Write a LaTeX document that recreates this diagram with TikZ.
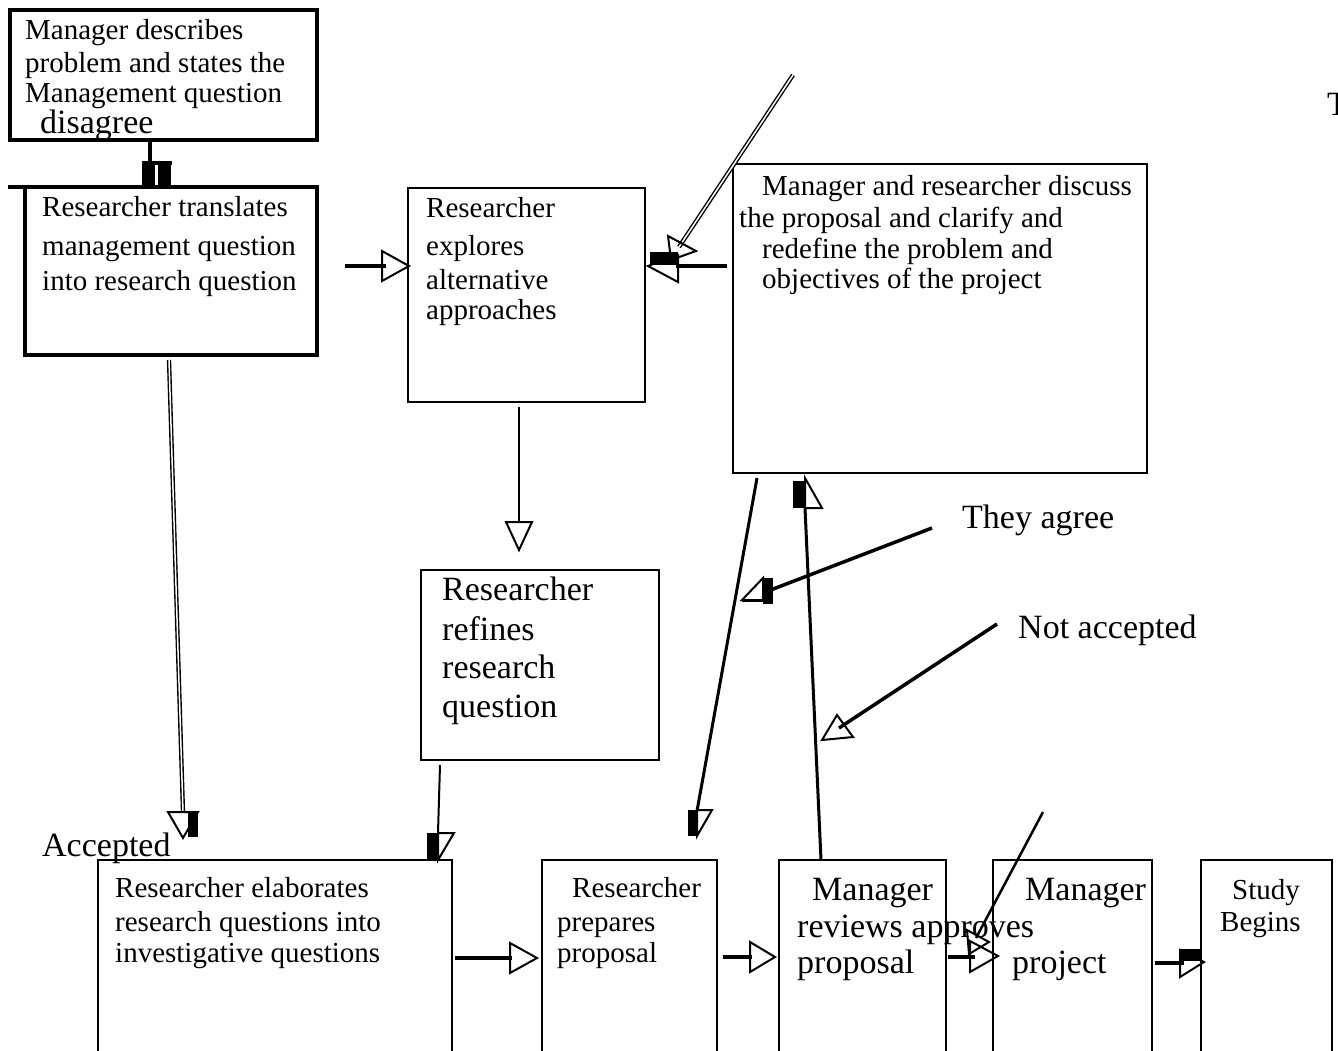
\documentclass[tikz,border=0pt]{standalone}
\usepackage{fontspec}
\setmainfont{Liberation Serif}
\begin{document}
\begin{tikzpicture}[x=1pt,y=-1pt,
  sm/.style={anchor=base west,inner sep=0pt,font=\fontsize{29}{31}\selectfont},
  lg/.style={anchor=base west,inner sep=0pt,font=\fontsize{34}{38}\selectfont},
  box/.style={draw,line width=2.3pt,inner sep=0pt,outer sep=0pt,anchor=north west},
  conn/.style={line width=3.5pt},
  thinc/.style={line width=2pt},
  dbl/.style={double,line width=1.4pt,double distance=1.5pt},
  head/.style={line width=2pt,line join=miter},
]
\useasboundingbox (0,0) rectangle (1338,1050);
\fill[white] (0,0) rectangle (1338,1050);
\clip (0,0) rectangle (1338,1050);

% ---------- boxes ----------
\node[box,line width=3.5pt,minimum width=307pt,minimum height=130pt] (A) at (10,10) {};
\node[box,line width=3.5pt,minimum width=292pt,minimum height=168pt] (B) at (25,187) {};
\node[box,minimum width=237pt,minimum height=214pt] (C) at (408,188) {};
\node[box,line width=2pt,minimum width=414pt,minimum height=309pt] (D) at (733,164) {};
\node[box,minimum width=238pt,minimum height=190pt] (E) at (421,570) {};
\node[box,minimum width=354pt,minimum height=220pt] (F) at (98,860) {};
\node[box,minimum width=175pt,minimum height=220pt] (G) at (542,860) {};
\node[box,minimum width=167pt,minimum height=220pt] (H) at (779,860) {};
\node[box,minimum width=159pt,minimum height=220pt] (I) at (993,860) {};
\node[box,minimum width=131pt,minimum height=220pt] (J) at (1201,860) {};

% ---------- texts ----------
\node[sm] (a1) at (25,39) {Manager describes};
\node[sm] (a2) at (25,72) {problem and states the};
\node[sm] (a3) at (25,102) {Management question};
\node[lg] (a4) at (40,133) {disagree};

\node[sm] (b1) at (42,216) {Researcher translates};
\node[sm] (b2) at (42,255) {management question};
\node[sm] (b3) at (42,290) {into research question};

\node[sm] (c1) at (426,217) {Researcher};
\node[sm] (c2) at (426,255) {explores};
\node[sm] (c3) at (426,289) {alternative};
\node[sm] (c4) at (426,319) {approaches};

\node[sm] (d1) at (762,195) {Manager and researcher discuss};
\node[sm] (d2) at (739,227) {the proposal and clarify and};
\node[sm] (d3) at (762,258) {redefine the problem and};
\node[sm] (d4) at (762,288) {objectives of the project};

\node[lg] (t1) at (1327,115) {T};

\node[lg] (e1) at (442,600) {Researcher};
\node[lg] (e2) at (442,640) {refines};
\node[lg] (e3) at (442,678) {research};
\node[lg] (e4) at (442,717) {question};

\node[lg] (acc) at (42,856) {Accepted};

\node[sm] (f1) at (115,897) {Researcher elaborates};
\node[sm] (f2) at (115,931) {research questions into};
\node[sm] (f3) at (115,962) {investigative questions};

\node[sm] (g1) at (572,897) {Researcher};
\node[sm] (g2) at (557,931) {prepares};
\node[sm] (g3) at (557,962) {proposal};

\node[lg] (h1) at (812,900) {Manager};
\node[lg] (h2) at (797,937) {reviews approves};
\node[lg] (h3) at (797,973) {proposal};

\node[lg] (i1) at (1025,900) {Manager};
\node[lg] (i2) at (1012,973) {project};

\node[sm] (j1) at (1232,899) {Study};
\node[sm] (j2) at (1220,931) {Begins};

\node[lg] (agree) at (962,528) {They agree};
\node[lg] (nacc) at (1018,638) {Not accepted};

% ---------- connector end points ----------
\coordinate (ab0) at (150,140);
\coordinate (ab1) at (150,163);
\coordinate (bs0) at (8,187);
\coordinate (bs1) at (25,187);
\coordinate (bc0) at (345,266);
\coordinate (bc1) at (386,266);
\coordinate (dc0) at (727,266);
\coordinate (dc1) at (676,266);
\coordinate (tl0) at (793,75);
\coordinate (tl1) at (679,247);
\coordinate (ce0) at (519,407);
\coordinate (ce1) at (519,522);
\coordinate (bf0) at (169,360);
\coordinate (bf1) at (183,812);
\coordinate (ef0) at (440,765);
\coordinate (ef1) at (438,833);
\coordinate (fg0) at (455,958);
\coordinate (fg1) at (512,958);
\coordinate (dg0) at (757,478);
\coordinate (dg1) at (697,811);
\coordinate (gh0) at (723,957);
\coordinate (gh1) at (752,957);
\coordinate (hd0) at (821,860);
\coordinate (hd1) at (805,508);
\coordinate (ag0) at (932,528);
\coordinate (ag1) at (768,591);
\coordinate (na0) at (997,624);
\coordinate (na1) at (839,728);
\coordinate (hi0) at (948,957);
\coordinate (hi1) at (975,957);
\coordinate (bd0) at (1043,812);
\coordinate (bd1) at (976,938);
\coordinate (ij0) at (1155,963);
\coordinate (ij1) at (1184,963);

% ---------- connectors ----------
% A -> B
\draw[conn] (ab0) -- (ab1);
\draw[conn] (142,163) -- (172,163);
\fill (142,163) rectangle (155,188);
\fill (158,163) rectangle (171,188);
\draw[conn] (bs0) -- (bs1);

% B -> C
\draw[conn] (bc0) -- (bc1);
\draw[head] (382,251) -- (409,266) -- (382,281) -- cycle;

% D -> C
\draw[conn] (dc0) -- (dc1);
\draw[head] (648,266) -- (678,255) -- (678,282) -- cycle;
\fill (650,252) rectangle (678,265);

% top diagonal double line
\draw[dbl] (tl0) -- (tl1);
\draw[head] (668,236) -- (696,251) -- (671,260) -- cycle;

% C -> E
\draw[thinc] (ce0) -- (ce1);
\draw[head] (506,522) -- (532,522) -- (519,550) -- cycle;

% B -> F (double)
\draw[dbl] (bf0) -- (bf1);
\draw[head] (168,812) -- (198,812) -- (183,838) -- cycle;
\fill (188,811) rectangle (198,837);

% E -> F
\draw[thinc] (ef0) -- (ef1);
\fill (427,833) rectangle (438,860);
\draw[head] (438,833) -- (454,833) -- (438,860) -- cycle;

% F -> G
\draw[conn] (fg0) -- (fg1);
\draw[head] (510,943) -- (537,958) -- (510,973) -- cycle;

% D -> G
\draw[line width=3pt] (dg0) -- (dg1);
\fill (688,810) rectangle (697,836);
\draw[head] (697,810) -- (712,810) -- (697,836) -- cycle;

% G -> H
\draw[conn] (gh0) -- (gh1);
\draw[head] (750,942) -- (775,957) -- (750,972) -- cycle;

% H -> D
\draw[line width=3pt] (hd0) -- (hd1);
\fill (793,481) rectangle (805,508);
\draw[head] (805,478) -- (822,508) -- (805,508) -- cycle;

% They agree
\draw[conn] (ag0) -- (ag1);
\draw[head] (742,600) -- (763,578) -- (763,600) -- cycle;
\draw[line width=3pt] (742,600) -- (763,600);
\fill (763,578) rectangle (773,604);

% Not accepted
\draw[conn] (na0) -- (na1);
\draw[head] (822,740) -- (837,715) -- (853,737) -- cycle;

% H -> I
\draw[conn] (hi0) -- (hi1);
\draw[head] (970,941) -- (998,956) -- (970,972) -- cycle;

% bottom diagonal
\draw[line width=2.5pt] (bd0) -- (bd1);
\draw[head] (967,930) -- (989,942) -- (969,954) -- cycle;

% I -> J
\draw[conn] (ij0) -- (ij1);
\draw[head] (1180,950) -- (1204,962) -- (1180,977) -- cycle;
\fill (1179,949) rectangle (1202,961);
\end{tikzpicture}
\end{document}
